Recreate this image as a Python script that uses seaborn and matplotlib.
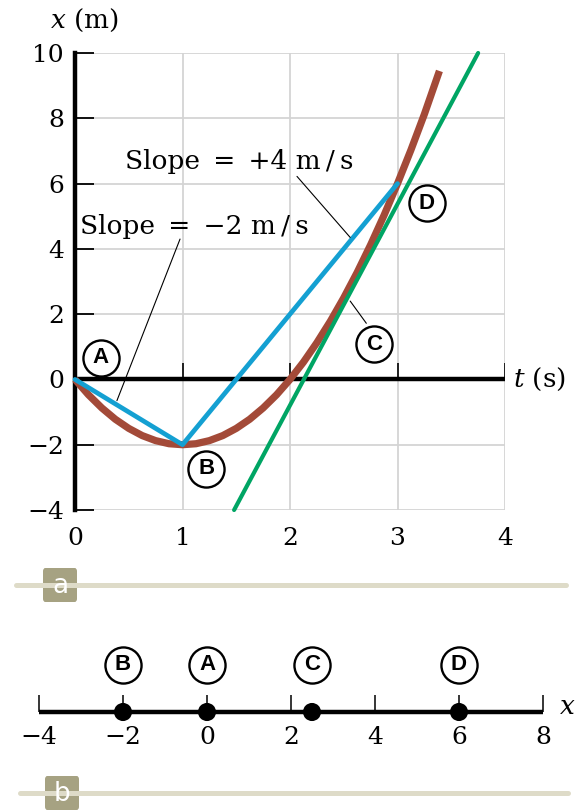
import matplotlib
matplotlib.use("Agg")
import matplotlib.pyplot as plt
from matplotlib.lines import Line2D
from matplotlib.patches import FancyBboxPatch
import seaborn as sns
import pandas as pd

# ---- data ---------------------------------------------------------------
# position curve x(t)
curve_t = [0.0, 0.125, 0.25, 0.375, 0.5, 0.625, 0.75, 0.875, 1.0, 1.125, 1.25,
           1.375, 1.5, 1.625, 1.75, 1.875, 2.0, 2.125, 2.25, 2.375, 2.5, 2.625,
           2.75, 2.875, 3.0, 3.125, 3.25, 3.39]
curve_x = [0.0, -0.47, -0.875, -1.22, -1.5, -1.72, -1.875, -1.97, -2.0, -1.97, -1.875,
           -1.72, -1.5, -1.22, -0.875, -0.47, 0.0, 0.53, 1.125, 1.78, 2.5, 3.28,
           4.125, 5.03, 6.0, 7.03, 8.125, 9.45]
# chords A-B and B-D
chord_t = [0.0, 1.0, 3.0]
chord_x = [0.0, -2.0, 6.0]
# tangent at C
tangent_t = [1.48, 3.75]
tangent_x = [-4.0, 10.0]

t_ticks = [0, 1, 2, 3, 4]
x_ticks = [-4, -2, 0, 2, 4, 6, 8, 10]

# points on the number line
point_names = ["A", "B", "C", "D"]
point_pos = [0.0, -2.0, 2.5, 6.0]
line_ticks = [-4, -2, 0, 2, 4, 6, 8]

slope_labels = ["Slope\u2002=\u2002+4 m\u2009/\u2009s", "Slope\u2002=\u2002\u22122 m\u2009/\u2009s"]

# ---- style --------------------------------------------------------------
sns.set_style("white")
plt.rcParams["font.family"] = ["DejaVu Serif"]
plt.rcParams["mathtext.fontset"] = "dejavuserif"
plt.rcParams["text.color"] = "black"
plt.rcParams["xtick.color"] = "black"
plt.rcParams["ytick.color"] = "black"
plt.rcParams["axes.labelcolor"] = "black"

BROWN = "#A34A38"
BLUE = "#14A0D2"
GREEN = "#00A564"
GRID = "#D4D4D4"
FS = 18

W, H = 583, 810
fig = plt.figure(figsize=(W / 100, H / 100), dpi=100)


def px(x0, y0, w, h):
    """axes rectangle from pixel box (left, top, width, height)"""
    return [x0 / W, 1 - (y0 + h) / H, w / W, h / H]


def circled(ax, x, y, letter):
    ax.plot([x], [y], marker="o", ms=26, mfc="white", mec="black", mew=1.7,
            ls="none", zorder=6, clip_on=False)
    ax.text(x, y, letter, ha="center", va="center", fontsize=16, color="black",
            fontweight="bold", family="Liberation Sans", zorder=7)


# ---- panel a: x versus t ------------------------------------------------
ax = fig.add_axes(px(75, 53, 430, 457))
ax.set_xlim(0, 4)
ax.set_ylim(-4, 10)
ax.set_xticks(t_ticks)
ax.set_yticks(x_ticks)
ax.grid(True, color=GRID, lw=1.3)
ax.set_axisbelow(True)
for s in ["top", "right", "bottom"]:
    ax.spines[s].set_visible(False)
ax.spines["left"].set_linewidth(3.2)
ax.spines["left"].set_color("black")
ax.tick_params(axis="y", left=True, direction="in", length=14, width=1.3,
               color="black", labelsize=FS, pad=8)
ax.tick_params(axis="x", bottom=True, length=0, labelsize=FS, pad=12)
ax.set_yticklabels([f"{v}".replace("-", "\u2212") for v in x_ticks])

# time axis through x = 0 with upward ticks
ax.axhline(0, color="black", lw=3.2, zorder=2)
ax.vlines(t_ticks[1:], 0, 0.5, color="black", lw=1.2, zorder=2)

df_curve = pd.DataFrame({"t": curve_t, "x": curve_x})
df_chord = pd.DataFrame({"t": chord_t, "x": chord_x})
df_tan = pd.DataFrame({"t": tangent_t, "x": tangent_x})
sns.lineplot(data=df_curve, x="t", y="x", color=BROWN, lw=5.2, sort=False,
             ax=ax, zorder=3, solid_capstyle="butt", solid_joinstyle="round",
             clip_on=False)
sns.lineplot(data=df_tan, x="t", y="x", color=GREEN, lw=3.0, sort=False,
             ax=ax, zorder=4, clip_on=False)
sns.lineplot(data=df_chord, x="t", y="x", color=BLUE, lw=3.4, sort=False,
             ax=ax, zorder=5, clip_on=False)
ax.set_xlabel("")
ax.set_ylabel("")

# slope call-outs
ax.text(0.465, 6.46, slope_labels[0], fontsize=19, ha="left", va="baseline")
ax.plot([2.065, 2.56], [6.22, 4.35], color="black", lw=0.8, zorder=6)
ax.text(0.05, 4.45, slope_labels[1], fontsize=19, ha="left", va="baseline")
ax.plot([0.977, 0.39], [4.3, -0.65], color="black", lw=0.8, zorder=6)
ax.plot([2.56, 2.71], [2.4, 1.72], color="black", lw=0.8, zorder=6)

circled(ax, 0.24, 0.67, "A")
circled(ax, 1.22, -2.74, "B")
circled(ax, 2.78, 1.08, "C")
circled(ax, 3.27, 5.4, "D")

fig.text(50 / W, 1 - 20 / H, "$x$ (m)", fontsize=19, ha="left", va="center")
ax.text(4.07, 0, "$t$ (s)", fontsize=19, ha="left", va="center")

# ---- panel b: positions on the x axis -----------------------------------
ax2 = fig.add_axes(px(39, 630, 504, 130))
ax2.set_xlim(-4, 8)
ax2.set_ylim(-48, 82)
ax2.set_xticks(line_ticks)
ax2.set_yticks([])
for s in ["top", "right", "left"]:
    ax2.spines[s].set_visible(False)
ax2.spines["bottom"].set_position(("data", 0))
ax2.spines["bottom"].set_linewidth(3.2)
ax2.spines["bottom"].set_color("black")
ax2.spines["bottom"].set_capstyle("butt")
ax2.tick_params(axis="x", bottom=True, direction="in", length=12.5, width=1.1,
                color="black", labelsize=FS, pad=10)
ax2.set_xticklabels([f"{v}".replace("-", "\u2212") for v in line_ticks])
ax2.patch.set_alpha(0)

df_pts = pd.DataFrame({"pos": point_pos, "y": [0] * len(point_pos), "name": point_names})
sns.scatterplot(data=df_pts, x="pos", y="y", s=170, color="black", ax=ax2,
                zorder=4, clip_on=False, legend=False, edgecolor="none")
ax2.set_xlabel("")
ax2.set_ylabel("")
for name, pos in zip(point_names, point_pos):
    circled(ax2, pos, 47, name)

fig.text(567 / W, 1 - 707 / H, "$x$", fontsize=19, ha="center", va="center")

# ---- panel tags ---------------------------------------------------------
TAG_LINE = "#DEDBC8"
TAG_BOX = "#A6A282"
for letter, y, x0, x1, bx in [("a", 585, 16, 566, 43), ("b", 793, 20, 568, 45)]:
    fig.add_artist(Line2D([x0 / W, x1 / W], [1 - y / H, 1 - y / H],
                          color=TAG_LINE, lw=3.6, solid_capstyle="round"))
    fig.add_artist(FancyBboxPatch((bx / W, 1 - (y + 17) / H), 34 / W, 34 / H,
                                  boxstyle="round,pad=0,rounding_size=0.004",
                                  fc=TAG_BOX, ec="none", transform=fig.transFigure))
    fig.text((bx + 17) / W, 1 - (y + 1) / H, letter, color="white", fontsize=19,
             family="DejaVu Sans", ha="center", va="center")

fig.savefig("out.png", dpi=100)
